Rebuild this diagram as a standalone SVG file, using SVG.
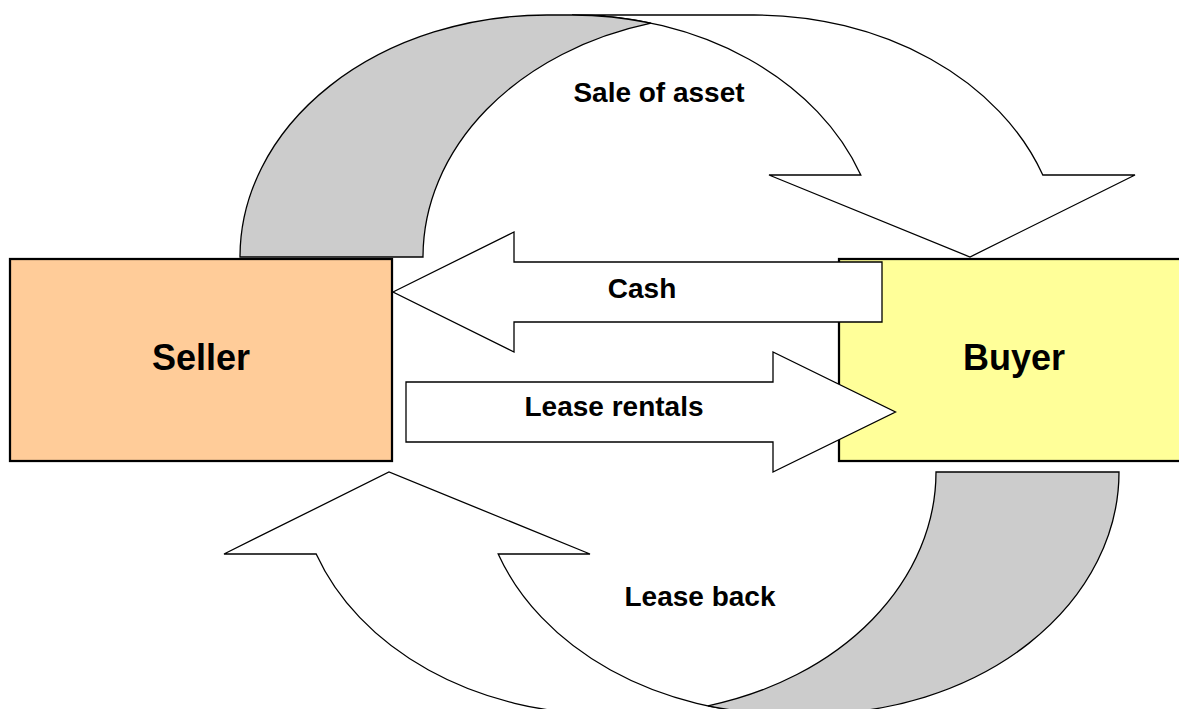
<svg xmlns="http://www.w3.org/2000/svg" xmlns:xlink="http://www.w3.org/1999/xlink" width="1179" height="709" viewBox="0 0 1179 709">
  <style>
    .box { stroke: #000; stroke-width: 2.25; }
    .arrow { fill: #fff; stroke: #000; stroke-width: 1.3; stroke-linejoin: miter; }
    .back { fill: #ccc; stroke: #000; stroke-width: 1.3; }
    .node-label { font-family: "Liberation Sans", Arial, sans-serif; font-weight: bold; font-size: 36px; text-anchor: middle; fill: #000; }
    .edge-label { font-family: "Liberation Sans", Arial, sans-serif; font-weight: bold; font-size: 28px; text-anchor: middle; fill: #000; }
  </style>
  <defs>
    <g id="curved-arrow">
      <path class="arrow" d="M 572,15 A 307 242 0 0 1 860.8,175 L 769,175 L 970,257 L 1135,175 L 1042.8,175 A 307 242 0 0 0 754,15 Z"/>
      <path class="back" d="M 240,257 A 307 242 0 0 1 547,15 L 572,15 A 307 242 0 0 1 651,23.2 A 307 242 0 0 0 423,257 Z"/>
    </g>
  </defs>
  <rect width="1179" height="709" fill="#fff"/>

  <g id="seller">
    <rect class="box" x="10" y="259" width="382" height="202" fill="#FFCC99"/>
    <text class="node-label" x="201" y="370">Seller</text>
  </g>

  <g id="buyer">
    <rect class="box" x="839" y="259" width="400" height="202" fill="#FFFF99"/>
    <text class="node-label" x="1014" y="370">Buyer</text>
  </g>

  <g id="connectors">
    <g id="sale-of-asset">
      <use xlink:href="#curved-arrow"/>
      <text class="edge-label" x="659" y="102">Sale of asset</text>
    </g>
    <g id="lease-back">
      <use xlink:href="#curved-arrow" transform="rotate(180 679.5 364.5)"/>
      <text class="edge-label" x="700" y="606">Lease back</text>
    </g>
    <g id="cash">
      <path class="arrow" d="M 393,292 L 514,232 L 514,262 L 882,262 L 882,322 L 514,322 L 514,352 Z"/>
      <text class="edge-label" x="642" y="298">Cash</text>
    </g>
    <g id="lease-rentals">
      <path class="arrow" d="M 406,382 L 773,382 L 773,352 L 895.5,412 L 773,472 L 773,442 L 406,442 Z"/>
      <text class="edge-label" x="614" y="416">Lease rentals</text>
    </g>
  </g>
</svg>
